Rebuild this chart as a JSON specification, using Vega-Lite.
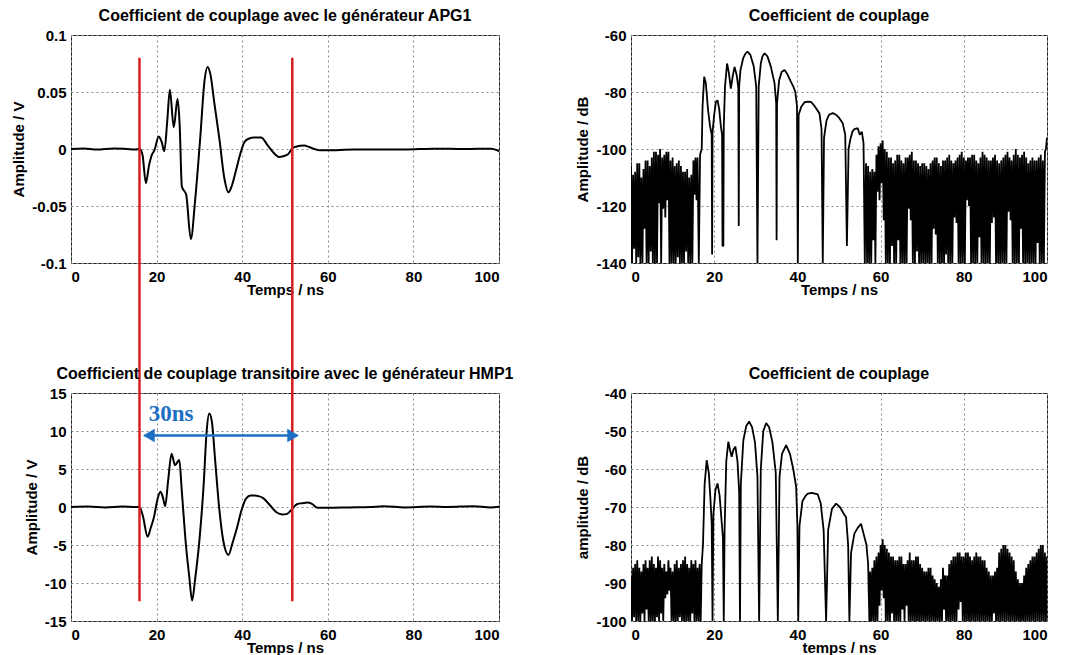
{
"$schema": "https://vega.github.io/schema/vega-lite/v6.json",
"background": "white",
"padding": {"left": 11, "top": 7, "right": 5, "bottom": 0},
"config": {
  "font": "Liberation Sans",
  "view": {"stroke": "#222", "strokeWidth": 1},
  "axis": {"grid": true, "gridDash": [2, 3], "gridColor": "#8a8a8a", "gridWidth": 1, "domain": false, "ticks": false,
    "labelFont": "Liberation Sans", "labelFontWeight": "bold", "labelFontSize": 15, "labelColor": "black", "labelPadding": 5,
    "titleFont": "Liberation Sans", "titleFontWeight": "bold", "titleFontSize": 15, "titleColor": "black", "titlePadding": 5,
    "labelExpr": "datum.value + ''"},
  "axisX": {"titlePadding": -2, "labelPadding": 6},
  "title": {"font": "Liberation Sans", "fontSize": 16, "fontWeight": "bold", "color": "black", "offset": 0, "frame": "group"}
},
"datasets": {
  "apg1": [
    {"t":0,"v":0},{"t":3,"v":0.0005},{"t":6,"v":-0.0005},{"t":10,"v":0.0005},{"t":13,"v":0},{"t":15,"v":-0.0005},{"t":16,"v":0},
    {"t":16.7,"v":-0.005},{"t":17.5,"v":-0.030},{"t":18.2,"v":-0.015},{"t":18.8,"v":-0.006},{"t":19.5,"v":-0.001},{"t":20.5,"v":0.011},
    {"t":21.2,"v":0.006},{"t":21.8,"v":-0.002},{"t":22.5,"v":0.025},{"t":23.1,"v":0.052},{"t":24.0,"v":0.019},{"t":24.9,"v":0.044},
    {"t":25.4,"v":0.020},{"t":25.9,"v":-0.033},{"t":26.9,"v":-0.040},{"t":28.0,"v":-0.079},{"t":29.0,"v":-0.045},{"t":30.2,"v":0.010},
    {"t":31.2,"v":0.060},{"t":31.9,"v":0.072},{"t":32.6,"v":0.065},{"t":33.5,"v":0.040},{"t":34.7,"v":0.008},{"t":35.8,"v":-0.025},
    {"t":36.8,"v":-0.038},{"t":37.6,"v":-0.032},{"t":38.6,"v":-0.018},{"t":39.5,"v":-0.005},{"t":40.5,"v":0.006},{"t":41.5,"v":0.009},
    {"t":42.8,"v":0.010},{"t":44.4,"v":0.010},{"t":46.0,"v":0.003},{"t":47.5,"v":-0.004},{"t":48.7,"v":-0.007},{"t":50.6,"v":-0.005},
    {"t":51.8,"v":0.001},{"t":52.5,"v":0.002},{"t":54.5,"v":0.003},{"t":55.5,"v":0.002},{"t":56.9,"v":0.000},{"t":58,"v":-0.001},
    {"t":62,"v":-0.001},{"t":66,"v":-0.0005},{"t":72,"v":-0.0005},{"t":78,"v":-0.0005},{"t":85,"v":0.0003},{"t":92,"v":0},
    {"t":98,"v":0.0003},{"t":99.5,"v":-0.001},{"t":100,"v":-0.002}
  ],
  "hmp1": [
    {"t":0,"v":0},{"t":4,"v":0.05},{"t":8,"v":-0.05},{"t":12,"v":0.05},{"t":15,"v":0},{"t":16,"v":0},{"t":16.8,"v":-1.2},
    {"t":17.9,"v":-3.9},{"t":18.6,"v":-2.8},{"t":19.4,"v":-1.3},{"t":20.2,"v":1.0},{"t":20.9,"v":2.0},{"t":21.5,"v":1.2},
    {"t":22.0,"v":0.1},{"t":22.7,"v":3.5},{"t":23.5,"v":7.0},{"t":24.3,"v":5.5},{"t":25.3,"v":6.2},{"t":25.9,"v":2.0},
    {"t":26.9,"v":-5.3},{"t":27.6,"v":-9.0},{"t":28.3,"v":-12.3},{"t":29.0,"v":-9.5},{"t":30.0,"v":-4.4},{"t":31.0,"v":3.0},
    {"t":31.7,"v":10.0},{"t":32.3,"v":12.3},{"t":32.9,"v":11.3},{"t":33.7,"v":6.0},{"t":34.6,"v":0.0},{"t":35.6,"v":-4.5},
    {"t":36.8,"v":-6.3},{"t":37.7,"v":-4.8},{"t":38.8,"v":-2.7},{"t":39.8,"v":-0.5},{"t":40.9,"v":1.1},{"t":42.0,"v":1.5},
    {"t":42.8,"v":1.5},{"t":44.0,"v":1.4},{"t":44.8,"v":1.2},{"t":46.7,"v":0.1},{"t":48.0,"v":-0.7},{"t":49.4,"v":-1.0},
    {"t":50.5,"v":-0.9},{"t":51.3,"v":-0.5},{"t":52.9,"v":0.4},{"t":54.0,"v":0.5},{"t":55.3,"v":0.6},{"t":56.3,"v":0.4},
    {"t":57.6,"v":-0.1},{"t":60,"v":-0.1},{"t":65,"v":-0.05},{"t":70,"v":0},{"t":73,"v":0.1},{"t":78,"v":-0.05},{"t":84,"v":0.05},
    {"t":88,"v":0},{"t":94,"v":0.1},{"t":98,"v":-0.05},{"t":100,"v":0.05}
  ],
  "db1": [
    {"t":0,"v":-106},{"t":0.25,"v":-140},{"t":0.5,"v":-109},{"t":0.75,"v":-135},{"t":1,"v":-108},{"t":1.25,"v":-140},
    {"t":1.5,"v":-105},{"t":1.75,"v":-138},{"t":2,"v":-105},{"t":2.25,"v":-140},{"t":2.5,"v":-110},{"t":2.75,"v":-140},
    {"t":3,"v":-107},{"t":3.25,"v":-128},{"t":3.5,"v":-104},{"t":3.75,"v":-140},{"t":4,"v":-104},{"t":4.25,"v":-140},
    {"t":4.5,"v":-106},{"t":4.75,"v":-136},{"t":5,"v":-103},{"t":5.25,"v":-140},{"t":5.5,"v":-101},{"t":5.75,"v":-140},
    {"t":6,"v":-101},{"t":6.25,"v":-140},{"t":6.5,"v":-102},{"t":6.75,"v":-119},{"t":7,"v":-100},{"t":7.25,"v":-140},
    {"t":7.5,"v":-103},{"t":7.75,"v":-121},{"t":8,"v":-102},{"t":8.25,"v":-124},{"t":8.5,"v":-101},{"t":8.75,"v":-118},
    {"t":9,"v":-101},{"t":9.25,"v":-140},{"t":9.5,"v":-104},{"t":9.75,"v":-140},{"t":10,"v":-103},{"t":10.25,"v":-140},
    {"t":10.5,"v":-106},{"t":10.75,"v":-140},{"t":11,"v":-105},{"t":11.25,"v":-138},{"t":11.5,"v":-104},{"t":11.75,"v":-140},
    {"t":12,"v":-106},{"t":12.25,"v":-140},{"t":12.5,"v":-108},{"t":12.75,"v":-140},{"t":13,"v":-108},{"t":13.25,"v":-136},
    {"t":13.5,"v":-107},{"t":13.75,"v":-140},{"t":14,"v":-110},{"t":14.25,"v":-140},{"t":14.5,"v":-109},{"t":14.75,"v":-140},
    {"t":15,"v":-104},{"t":15.25,"v":-116},{"t":15.5,"v":-103},{"t":15.75,"v":-118},{"t":16,"v":-103},{"t":16.3,"v":-140},
    {"t":16.6,"v":-102},{"t":17.0,"v":-100},{"t":17.2,"v":-85},{"t":17.6,"v":-74.6},{"t":18.0,"v":-77},
    {"t":18.5,"v":-86},{"t":19.0,"v":-92},{"t":19.4,"v":-95},{"t":19.5,"v":-137},{"t":19.6,"v":-94},{"t":20.0,"v":-88},
    {"t":20.4,"v":-83.5},{"t":20.8,"v":-82.9},{"t":21.2,"v":-86},{"t":21.6,"v":-92},{"t":21.9,"v":-95},{"t":22.0,"v":-134},
    {"t":22.2,"v":-134},{"t":22.3,"v":-92},{"t":22.6,"v":-78},{"t":23.1,"v":-70},{"t":23.5,"v":-73},{"t":24.0,"v":-78.8},
    {"t":24.5,"v":-74},{"t":24.9,"v":-71.2},{"t":25.4,"v":-74},{"t":25.8,"v":-78.5},{"t":25.9,"v":-127},{"t":26.0,"v":-78},
    {"t":26.3,"v":-72.4},{"t":27.0,"v":-68},{"t":27.5,"v":-66.5},{"t":28.0,"v":-65.8},{"t":28.7,"v":-67},{"t":29.5,"v":-71},
    {"t":30.1,"v":-78},{"t":30.4,"v":-140},{"t":30.7,"v":-78},{"t":31.2,"v":-70},{"t":31.6,"v":-67.5},{"t":32.1,"v":-66.4},
    {"t":32.8,"v":-67.5},{"t":33.6,"v":-71},{"t":34.5,"v":-76.9},{"t":34.9,"v":-84},{"t":35.0,"v":-132},{"t":35.1,"v":-84},
    {"t":35.6,"v":-76},{"t":36.2,"v":-73},{"t":36.9,"v":-72.3},{"t":37.5,"v":-73.5},{"t":38.3,"v":-76},{"t":39.0,"v":-78},
    {"t":39.5,"v":-80},{"t":39.9,"v":-85},{"t":40.1,"v":-140},{"t":40.3,"v":-88},{"t":40.9,"v":-85.3},{"t":41.7,"v":-83.6},
    {"t":42.5,"v":-83.4},{"t":43.3,"v":-83.5},{"t":43.9,"v":-84.5},{"t":44.6,"v":-86},{"t":45.3,"v":-87.5},{"t":45.8,"v":-93},
    {"t":46.1,"v":-140},{"t":46.4,"v":-96},{"t":47.0,"v":-90},{"t":47.6,"v":-88},{"t":48.5,"v":-87.4},{"t":49.3,"v":-88},
    {"t":50.0,"v":-89},{"t":50.9,"v":-91},{"t":51.5,"v":-95},{"t":51.9,"v":-134},{"t":52.3,"v":-100},{"t":52.7,"v":-96.8},
    {"t":53.2,"v":-94},{"t":53.7,"v":-93},{"t":54.5,"v":-92.7},{"t":55.0,"v":-95},{"t":55.5,"v":-94},{"t":55.9,"v":-98},
    {"t":56.2,"v":-140},{"t":56.5,"v":-105},{"t":56.75,"v":-140},{"t":57,"v":-106},{"t":57.25,"v":-140},{"t":57.5,"v":-108},
    {"t":57.75,"v":-140},{"t":58,"v":-107},{"t":58.25,"v":-132},{"t":58.5,"v":-108},{"t":58.75,"v":-140},{"t":59,"v":-102},
    {"t":59.25,"v":-115},{"t":59.5,"v":-99},{"t":59.75,"v":-118},{"t":60,"v":-98},{"t":60.25,"v":-112},{"t":60.5,"v":-97},
    {"t":60.75,"v":-125},{"t":61,"v":-100},{"t":61.25,"v":-140},{"t":61.5,"v":-101},{"t":61.75,"v":-140},{"t":62,"v":-103},
    {"t":62.25,"v":-140},{"t":62.5,"v":-103},{"t":62.75,"v":-134},{"t":63,"v":-105},{"t":63.25,"v":-140},{"t":63.5,"v":-104},
    {"t":63.75,"v":-140},{"t":64,"v":-102},{"t":64.25,"v":-132},{"t":64.5,"v":-102},{"t":64.75,"v":-140},{"t":65,"v":-104},
    {"t":65.25,"v":-140},{"t":65.5,"v":-105},{"t":65.75,"v":-140},{"t":66,"v":-103},{"t":66.25,"v":-140},{"t":66.5,"v":-103},
    {"t":66.75,"v":-121},{"t":67,"v":-102},{"t":67.25,"v":-125},{"t":67.5,"v":-101},{"t":67.75,"v":-140},{"t":68,"v":-104},
    {"t":68.25,"v":-140},{"t":68.5,"v":-104},{"t":68.75,"v":-136},{"t":69,"v":-105},{"t":69.25,"v":-140},{"t":69.5,"v":-106},
    {"t":69.75,"v":-140},{"t":70,"v":-105},{"t":70.25,"v":-140},{"t":70.5,"v":-105},{"t":70.75,"v":-140},{"t":71,"v":-106},
    {"t":71.25,"v":-140},{"t":71.5,"v":-107},{"t":71.75,"v":-140},{"t":72,"v":-105},{"t":72.25,"v":-140},{"t":72.5,"v":-104},
    {"t":72.75,"v":-128},{"t":73,"v":-103},{"t":73.25,"v":-130},{"t":73.5,"v":-103},{"t":73.75,"v":-140},{"t":74,"v":-105},
    {"t":74.25,"v":-140},{"t":74.5,"v":-106},{"t":74.75,"v":-140},{"t":75,"v":-104},{"t":75.25,"v":-140},{"t":75.5,"v":-104},
    {"t":75.75,"v":-137},{"t":76,"v":-103},{"t":76.25,"v":-140},{"t":76.5,"v":-102},{"t":76.75,"v":-140},{"t":77,"v":-104},
    {"t":77.25,"v":-140},{"t":77.5,"v":-105},{"t":77.75,"v":-124},{"t":78,"v":-104},{"t":78.25,"v":-126},{"t":78.5,"v":-103},
    {"t":78.75,"v":-140},{"t":79,"v":-102},{"t":79.25,"v":-140},{"t":79.5,"v":-101},{"t":79.75,"v":-140},{"t":80,"v":-103},
    {"t":80.25,"v":-140},{"t":80.5,"v":-104},{"t":80.75,"v":-118},{"t":81,"v":-103},{"t":81.25,"v":-120},{"t":81.5,"v":-103},
    {"t":81.75,"v":-140},{"t":82,"v":-102},{"t":82.25,"v":-140},{"t":82.5,"v":-102},{"t":82.75,"v":-140},{"t":83,"v":-104},
    {"t":83.25,"v":-140},{"t":83.5,"v":-105},{"t":83.75,"v":-131},{"t":84,"v":-103},{"t":84.25,"v":-140},{"t":84.5,"v":-101},
    {"t":84.75,"v":-140},{"t":85,"v":-102},{"t":85.25,"v":-140},{"t":85.5,"v":-103},{"t":85.75,"v":-140},{"t":86,"v":-104},
    {"t":86.25,"v":-140},{"t":86.5,"v":-104},{"t":86.75,"v":-126},{"t":87,"v":-103},{"t":87.25,"v":-124},{"t":87.5,"v":-102},
    {"t":87.75,"v":-140},{"t":88,"v":-104},{"t":88.25,"v":-140},{"t":88.5,"v":-105},{"t":88.75,"v":-140},{"t":89,"v":-104},
    {"t":89.25,"v":-140},{"t":89.5,"v":-103},{"t":89.75,"v":-140},{"t":90,"v":-102},{"t":90.25,"v":-140},{"t":90.5,"v":-101},
    {"t":90.75,"v":-122},{"t":91,"v":-103},{"t":91.25,"v":-125},{"t":91.5,"v":-104},{"t":91.75,"v":-140},{"t":92,"v":-102},
    {"t":92.25,"v":-140},{"t":92.5,"v":-100},{"t":92.75,"v":-140},{"t":93,"v":-102},{"t":93.25,"v":-140},{"t":93.5,"v":-103},
    {"t":93.75,"v":-128},{"t":94,"v":-102},{"t":94.25,"v":-140},{"t":94.5,"v":-101},{"t":94.75,"v":-140},{"t":95,"v":-103},
    {"t":95.25,"v":-140},{"t":95.5,"v":-105},{"t":95.75,"v":-140},{"t":96,"v":-104},{"t":96.25,"v":-140},{"t":96.5,"v":-103},
    {"t":96.75,"v":-140},{"t":97,"v":-104},{"t":97.25,"v":-140},{"t":97.5,"v":-104},{"t":97.75,"v":-133},{"t":98,"v":-103},
    {"t":98.25,"v":-140},{"t":98.5,"v":-102},{"t":98.75,"v":-140},{"t":99,"v":-104},{"t":99.25,"v":-140},{"t":99.5,"v":-101},
    {"t":99.75,"v":-100},{"t":100,"v":-96}
  ],
  "db2": [
    {"t":0,"v":-88},{"t":0.25,"v":-100},{"t":0.5,"v":-86},{"t":0.75,"v":-99},{"t":1,"v":-85},{"t":1.25,"v":-100},
    {"t":1.5,"v":-84},{"t":1.75,"v":-100},{"t":2,"v":-86},{"t":2.25,"v":-100},{"t":2.5,"v":-87},{"t":2.75,"v":-98},
    {"t":3,"v":-85},{"t":3.25,"v":-100},{"t":3.5,"v":-84},{"t":3.75,"v":-97},{"t":4,"v":-86},{"t":4.25,"v":-100},
    {"t":4.5,"v":-84},{"t":4.75,"v":-100},{"t":5,"v":-83},{"t":5.25,"v":-100},{"t":5.5,"v":-85},{"t":5.75,"v":-100},
    {"t":6,"v":-86},{"t":6.25,"v":-99},{"t":6.5,"v":-83},{"t":6.75,"v":-100},{"t":7,"v":-84},{"t":7.25,"v":-98},
    {"t":7.5,"v":-86},{"t":7.75,"v":-100},{"t":8,"v":-85},{"t":8.25,"v":-94},{"t":8.5,"v":-87},{"t":8.75,"v":-93},
    {"t":9,"v":-84},{"t":9.25,"v":-92},{"t":9.5,"v":-86},{"t":9.75,"v":-100},{"t":10,"v":-87},{"t":10.25,"v":-100},
    {"t":10.5,"v":-85},{"t":10.75,"v":-100},{"t":11,"v":-84},{"t":11.25,"v":-100},{"t":11.5,"v":-86},{"t":11.75,"v":-99},
    {"t":12,"v":-85},{"t":12.25,"v":-100},{"t":12.5,"v":-84},{"t":12.75,"v":-100},{"t":13,"v":-83},{"t":13.25,"v":-100},
    {"t":13.5,"v":-85},{"t":13.75,"v":-100},{"t":14,"v":-86},{"t":14.25,"v":-100},{"t":14.5,"v":-84},{"t":14.75,"v":-98},
    {"t":15,"v":-85},{"t":15.25,"v":-100},{"t":15.5,"v":-84},{"t":15.75,"v":-100},{"t":16,"v":-86},{"t":16.25,"v":-100},
    {"t":16.5,"v":-85},{"t":16.75,"v":-100},{"t":17.0,"v":-85},{"t":17.3,"v":-80},{"t":17.7,"v":-64},{"t":18.2,"v":-57.7},
    {"t":18.7,"v":-61},{"t":19.1,"v":-68},{"t":19.4,"v":-74.4},{"t":19.6,"v":-100},{"t":19.8,"v":-72},{"t":20.3,"v":-65.5},
    {"t":20.8,"v":-63.8},{"t":21.3,"v":-67},{"t":21.8,"v":-74},{"t":22.1,"v":-78},{"t":22.3,"v":-100},{"t":22.5,"v":-76},
    {"t":22.9,"v":-58},{"t":23.4,"v":-52.8},{"t":23.8,"v":-55},{"t":24.2,"v":-56.8},{"t":24.6,"v":-55},{"t":25.1,"v":-54.1},
    {"t":25.6,"v":-58},{"t":26.0,"v":-66},{"t":26.2,"v":-100},{"t":26.4,"v":-64},{"t":27.0,"v":-52.5},{"t":27.7,"v":-48.7},
    {"t":28.4,"v":-47.5},{"t":29.1,"v":-49},{"t":29.8,"v":-53},{"t":30.4,"v":-62},{"t":30.8,"v":-100},{"t":31.2,"v":-60},
    {"t":31.8,"v":-50},{"t":32.5,"v":-47.9},{"t":33.2,"v":-49},{"t":34.0,"v":-53},{"t":34.8,"v":-61},{"t":35.3,"v":-100},
    {"t":35.7,"v":-62},{"t":36.3,"v":-56},{"t":37.3,"v":-53.7},{"t":38.2,"v":-56},{"t":39.0,"v":-60},{"t":39.7,"v":-64.7},
    {"t":40.0,"v":-75},{"t":40.2,"v":-100},{"t":40.5,"v":-75},{"t":41.2,"v":-68.5},{"t":42.0,"v":-67},{"t":42.5,"v":-66.5},
    {"t":43.5,"v":-66.3},{"t":44.9,"v":-66.7},{"t":45.6,"v":-69},{"t":46.3,"v":-76},{"t":46.9,"v":-100},{"t":47.4,"v":-76},
    {"t":48.3,"v":-70.5},{"t":49.3,"v":-69.1},{"t":50.2,"v":-70},{"t":51.0,"v":-71.5},{"t":51.7,"v":-72.7},{"t":52.2,"v":-80},
    {"t":52.5,"v":-100},{"t":52.9,"v":-82},{"t":53.7,"v":-77},{"t":54.5,"v":-75.5},{"t":55.3,"v":-74.4},{"t":55.9,"v":-77},
    {"t":56.6,"v":-80},{"t":57.0,"v":-85},{"t":57.3,"v":-100},{"t":57.5,"v":-87},{"t":57.75,"v":-100},{"t":58,"v":-86},
    {"t":58.25,"v":-100},{"t":58.5,"v":-84},{"t":58.75,"v":-100},{"t":59,"v":-83},{"t":59.25,"v":-100},{"t":59.5,"v":-82},
    {"t":59.75,"v":-96},{"t":60,"v":-80},{"t":60.25,"v":-92},{"t":60.5,"v":-78.5},{"t":60.75,"v":-94},{"t":61,"v":-80},
    {"t":61.25,"v":-100},{"t":61.5,"v":-81},{"t":61.75,"v":-100},{"t":62,"v":-82},{"t":62.25,"v":-100},{"t":62.5,"v":-83},
    {"t":62.75,"v":-98},{"t":63,"v":-83},{"t":63.25,"v":-100},{"t":63.5,"v":-84},{"t":63.75,"v":-100},{"t":64,"v":-84},
    {"t":64.25,"v":-100},{"t":64.5,"v":-83},{"t":64.75,"v":-100},{"t":65,"v":-83},{"t":65.25,"v":-97},{"t":65.5,"v":-85},
    {"t":65.75,"v":-100},{"t":66,"v":-85},{"t":66.25,"v":-96},{"t":66.5,"v":-84},{"t":66.75,"v":-100},{"t":67,"v":-82},
    {"t":67.25,"v":-100},{"t":67.5,"v":-84},{"t":67.75,"v":-100},{"t":68,"v":-84},{"t":68.25,"v":-100},{"t":68.5,"v":-83},
    {"t":68.75,"v":-100},{"t":69,"v":-83},{"t":69.25,"v":-100},{"t":69.5,"v":-85},{"t":69.75,"v":-100},{"t":70,"v":-86},
    {"t":70.25,"v":-100},{"t":70.5,"v":-87},{"t":70.75,"v":-100},{"t":71,"v":-87},{"t":71.25,"v":-100},{"t":71.5,"v":-86},
    {"t":71.75,"v":-100},{"t":72,"v":-86},{"t":72.25,"v":-100},{"t":72.5,"v":-88},{"t":72.75,"v":-100},{"t":73,"v":-89},
    {"t":73.25,"v":-100},{"t":73.5,"v":-90},{"t":73.75,"v":-100},{"t":74,"v":-91},{"t":74.25,"v":-100},{"t":74.5,"v":-89},
    {"t":74.75,"v":-100},{"t":75,"v":-86},{"t":75.25,"v":-97},{"t":75.5,"v":-88},{"t":75.75,"v":-100},{"t":76,"v":-88},
    {"t":76.25,"v":-100},{"t":76.5,"v":-85},{"t":76.75,"v":-100},{"t":77,"v":-84},{"t":77.25,"v":-100},{"t":77.5,"v":-83},
    {"t":77.75,"v":-100},{"t":78,"v":-83},{"t":78.25,"v":-100},{"t":78.5,"v":-82},{"t":78.75,"v":-97},{"t":79,"v":-82},
    {"t":79.25,"v":-95},{"t":79.5,"v":-83},{"t":79.75,"v":-100},{"t":80,"v":-83},{"t":80.25,"v":-100},{"t":80.5,"v":-82},
    {"t":80.75,"v":-100},{"t":81,"v":-82},{"t":81.25,"v":-100},{"t":81.5,"v":-83},{"t":81.75,"v":-100},{"t":82,"v":-84},
    {"t":82.25,"v":-100},{"t":82.5,"v":-83},{"t":82.75,"v":-100},{"t":83,"v":-82},{"t":83.25,"v":-100},{"t":83.5,"v":-83},
    {"t":83.75,"v":-100},{"t":84,"v":-83},{"t":84.25,"v":-100},{"t":84.5,"v":-84},{"t":84.75,"v":-100},{"t":85,"v":-84},
    {"t":85.25,"v":-100},{"t":85.5,"v":-86},{"t":85.75,"v":-100},{"t":86,"v":-87},{"t":86.25,"v":-100},{"t":86.5,"v":-88},
    {"t":86.75,"v":-100},{"t":87,"v":-88},{"t":87.25,"v":-98},{"t":87.5,"v":-87},{"t":87.75,"v":-100},{"t":88,"v":-86},
    {"t":88.25,"v":-100},{"t":88.5,"v":-82},{"t":88.75,"v":-100},{"t":89,"v":-81},{"t":89.25,"v":-100},{"t":89.5,"v":-80},
    {"t":89.75,"v":-100},{"t":90,"v":-80},{"t":90.25,"v":-100},{"t":90.5,"v":-81},{"t":90.75,"v":-100},{"t":91,"v":-82},
    {"t":91.25,"v":-100},{"t":91.5,"v":-83},{"t":91.75,"v":-100},{"t":92,"v":-84},{"t":92.25,"v":-100},{"t":92.5,"v":-87},
    {"t":92.75,"v":-100},{"t":93,"v":-89},{"t":93.25,"v":-100},{"t":93.5,"v":-90},{"t":93.75,"v":-100},{"t":94,"v":-90},
    {"t":94.25,"v":-100},{"t":94.5,"v":-88},{"t":94.75,"v":-100},{"t":95,"v":-86},{"t":95.25,"v":-100},{"t":95.5,"v":-85},
    {"t":95.75,"v":-100},{"t":96,"v":-84},{"t":96.25,"v":-100},{"t":96.5,"v":-83},{"t":96.75,"v":-100},{"t":97,"v":-83},
    {"t":97.25,"v":-100},{"t":97.5,"v":-82},{"t":97.75,"v":-100},{"t":98,"v":-81},{"t":98.25,"v":-100},{"t":98.5,"v":-80},
    {"t":98.75,"v":-100},{"t":99,"v":-80},{"t":99.25,"v":-100},{"t":99.5,"v":-82},{"t":99.75,"v":-100},{"t":100,"v":-83}
  ]
},
"bounds": "flush",
"align": "each",
"columns": 2,
"spacing": {"row": 130, "column": 132},
"concat": [
  {
    "title": "Coefficient de couplage avec le générateur APG1",
    "width": 428, "height": 228,
    "encoding": {
      "x": {"field": "t", "type": "quantitative", "scale": {"domain": [0, 100], "nice": false, "zero": false}, "axis": {"values": [0, 20, 40, 60, 80, 100], "title": "Temps / ns"}},
      "y": {"field": "v", "type": "quantitative", "scale": {"domain": [-0.1, 0.1], "nice": false, "zero": false}, "axis": {"values": [-0.1, -0.05, 0, 0.05, 0.1], "title": "Amplitude / V"}}
    },
    "layer": [
      {"data": {"name": "apg1"}, "mark": {"type": "line", "color": "black", "strokeWidth": 2, "interpolate": "monotone", "clip": true}},
      {"data": {"values": [{"t": 16, "v": 0.08, "v2": -0.214}, {"t": 51.7, "v": 0.08, "v2": -0.214}]},
       "mark": {"type": "rule", "color": "#d81e1e", "strokeWidth": 2.5, "clip": false},
       "encoding": {"y2": {"field": "v2"}}}
    ]
  },
  {
    "title": "Coefficient de couplage",
    "width": 416, "height": 228,
    "data": {"name": "db1"},
    "mark": {"type": "line", "color": "black", "strokeWidth": 1.8, "strokeJoin": "bevel", "clip": true},
    "encoding": {
      "x": {"field": "t", "type": "quantitative", "scale": {"domain": [0, 100], "nice": false, "zero": false}, "axis": {"values": [0, 20, 40, 60, 80, 100], "title": "Temps / ns"}},
      "y": {"field": "v", "type": "quantitative", "scale": {"domain": [-140, -60], "nice": false, "zero": false}, "axis": {"values": [-140, -120, -100, -80, -60], "title": "Amplitude / dB"}}
    }
  },
  {
    "title": "Coefficient de couplage transitoire avec le générateur HMP1",
    "width": 428, "height": 228,
    "encoding": {
      "x": {"field": "t", "type": "quantitative", "scale": {"domain": [0, 100], "nice": false, "zero": false}, "axis": {"values": [0, 20, 40, 60, 80, 100], "title": "Temps / ns"}},
      "y": {"field": "v", "type": "quantitative", "scale": {"domain": [-15, 15], "nice": false, "zero": false}, "axis": {"values": [-15, -10, -5, 0, 5, 10, 15], "title": "Amplitude / V"}}
    },
    "layer": [
      {"data": {"name": "hmp1"}, "mark": {"type": "line", "color": "black", "strokeWidth": 2, "interpolate": "monotone", "clip": true}},
      {"data": {"values": [{"t": 16, "v": 15, "v2": -12.4}, {"t": 51.7, "v": 15, "v2": -12.4}]},
       "mark": {"type": "rule", "color": "#d81e1e", "strokeWidth": 2.5, "clip": false},
       "encoding": {"y2": {"field": "v2"}}},
      {"data": {"values": [{"t": 17.2, "t2": 52.8, "v": 9.4}]},
       "mark": {"type": "rule", "color": "#1c6fc2", "strokeWidth": 2.5},
       "encoding": {"x2": {"field": "t2"}}},
      {"data": {"values": [{"t": 18.2, "v": 9.4}]},
       "mark": {"type": "point", "shape": "triangle-left", "filled": true, "color": "#1c6fc2", "opacity": 1, "size": 180}},
      {"data": {"values": [{"t": 51.9, "v": 9.4}]},
       "mark": {"type": "point", "shape": "triangle-right", "filled": true, "color": "#1c6fc2", "opacity": 1, "size": 180}},
      {"data": {"values": [{"t": 23.4, "v": 12.2, "label": "30ns"}]},
       "mark": {"type": "text", "font": "Liberation Serif", "fontWeight": "bold", "fontSize": 23, "color": "#1c6fc2", "baseline": "middle", "align": "center"},
       "encoding": {"text": {"field": "label"}}}
    ]
  },
  {
    "title": "Coefficient de couplage",
    "width": 416, "height": 228,
    "data": {"name": "db2"},
    "mark": {"type": "line", "color": "black", "strokeWidth": 1.8, "strokeJoin": "bevel", "clip": true},
    "encoding": {
      "x": {"field": "t", "type": "quantitative", "scale": {"domain": [0, 100], "nice": false, "zero": false}, "axis": {"values": [0, 20, 40, 60, 80, 100], "title": "temps / ns"}},
      "y": {"field": "v", "type": "quantitative", "scale": {"domain": [-100, -40], "nice": false, "zero": false}, "axis": {"values": [-100, -90, -80, -70, -60, -50, -40], "title": "amplitude / dB"}}
    }
  }
]
}
